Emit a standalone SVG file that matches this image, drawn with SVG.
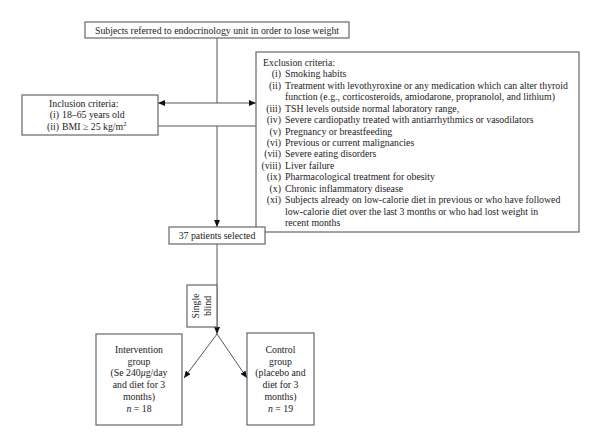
<svg xmlns="http://www.w3.org/2000/svg" width="600" height="447" viewBox="0 0 600 447">
<defs>
<marker id="ah" viewBox="0 0 7 6" refX="7" refY="3" markerWidth="7" markerHeight="6" markerUnits="userSpaceOnUse" orient="auto-start-reverse">
<path d="M0,0 L7,3 L0,6 z" fill="#111"/>
</marker>
<style>
.box{fill:#fff;stroke:#666;stroke-width:1.2}
.ln{fill:none;stroke:#555;stroke-width:1}
text{font-family:"Liberation Serif","Times New Roman",serif;font-size:9.8px;fill:#222}
.c{text-anchor:middle}
.r{text-anchor:end}
</style>
</defs>
<rect width="600" height="447" fill="#fff"/>
<g id="connectors">
<path class="ln" d="M217,38 V103"/>
<path class="ln" d="M158,103 H256" marker-start="url(#ah)" marker-end="url(#ah)"/>
<path class="ln" d="M158,126 H256"/>
<path class="ln" d="M217,126 V227" marker-end="url(#ah)"/>
<path class="ln" d="M217,244 V334" marker-end="url(#ah)"/>
<path class="ln" d="M217,334 L184,378" marker-end="url(#ah)"/>
<path class="ln" d="M217,334 L247,378" marker-end="url(#ah)"/>
</g>
<g id="top">
<rect class="box" x="85" y="22" width="264" height="16"/>
<text class="c" x="217" y="34">Subjects referred to endocrinology unit in order to lose weight</text>
</g>
<g id="inclusion">
<rect class="box" x="22" y="95" width="136" height="40"/>
<text x="49" y="107">Inclusion criteria:</text>
<text class="r" x="59" y="118">(i)</text><text x="62" y="118">18–65 years old</text>
<text class="r" x="59" y="130">(ii)</text><text x="62" y="130">BMI ≥ 25 kg/m<tspan dy="-4" font-size="6.5">2</tspan></text>
</g>
<g id="exclusion">
<rect class="box" x="256" y="52" width="323" height="180"/>
<text x="263" y="66">Exclusion criteria:</text>
<text class="r" x="281" y="77.4">(i)</text><text x="285" y="77.4">Smoking habits</text>
<text class="r" x="281" y="88.9">(ii)</text><text x="285" y="88.9">Treatment with levothyroxine or any medication which can alter thyroid</text>
<text x="285" y="100.3">function (e.g., corticosteroids, amiodarone, propranolol, and lithium)</text>
<text class="r" x="281" y="111.7">(iii)</text><text x="285" y="111.7">TSH levels outside normal laboratory range,</text>
<text class="r" x="281" y="123.2">(iv)</text><text x="285" y="123.2">Severe cardiopathy treated with antiarrhythmics or vasodilators</text>
<text class="r" x="281" y="134.6">(v)</text><text x="285" y="134.6">Pregnancy or breastfeeding</text>
<text class="r" x="281" y="146">(vi)</text><text x="285" y="146">Previous or current malignancies</text>
<text class="r" x="281" y="157.4">(vii)</text><text x="285" y="157.4">Severe eating disorders</text>
<text class="r" x="281" y="168.9">(viii)</text><text x="285" y="168.9">Liver failure</text>
<text class="r" x="281" y="180.3">(ix)</text><text x="285" y="180.3">Pharmacological treatment for obesity</text>
<text class="r" x="281" y="191.7">(x)</text><text x="285" y="191.7">Chronic inflammatory disease</text>
<text class="r" x="281" y="203.2">(xi)</text><text x="285" y="203.2">Subjects already on low-calorie diet in previous or who have followed</text>
<text x="285" y="214.6">low-calorie diet over the last 3 months or who had lost weight in</text>
<text x="285" y="226">recent months</text>
</g>
<g id="selected">
<rect class="box" x="169" y="227" width="96" height="17"/>
<text class="c" x="217" y="239">37 patients selected</text>
</g>
<g id="blind">
<rect class="box" x="187" y="285" width="30" height="42"/>
<text class="c" transform="translate(199,306) rotate(-90)">Single</text>
<text class="c" transform="translate(211,306) rotate(-90)">blind</text>
</g>
<g id="intervention">
<rect class="box" x="96" y="334" width="86" height="91"/>
<text class="c" x="139" y="353">Intervention</text>
<text class="c" x="139" y="365">group</text>
<text class="c" x="139" y="376">(Se 240<tspan font-style="italic">μ</tspan>g/day</text>
<text class="c" x="139" y="388">and diet for 3</text>
<text class="c" x="139" y="400">months)</text>
<text class="c" x="139" y="412"><tspan font-style="italic">n</tspan> = 18</text>
</g>
<g id="control">
<rect class="box" x="247" y="333" width="67" height="92"/>
<text class="c" x="280.5" y="353">Control</text>
<text class="c" x="280.5" y="365">group</text>
<text class="c" x="280.5" y="376">(placebo and</text>
<text class="c" x="280.5" y="388">diet for 3</text>
<text class="c" x="280.5" y="400">months)</text>
<text class="c" x="280.5" y="412"><tspan font-style="italic">n</tspan> = 19</text>
</g>
</svg>
